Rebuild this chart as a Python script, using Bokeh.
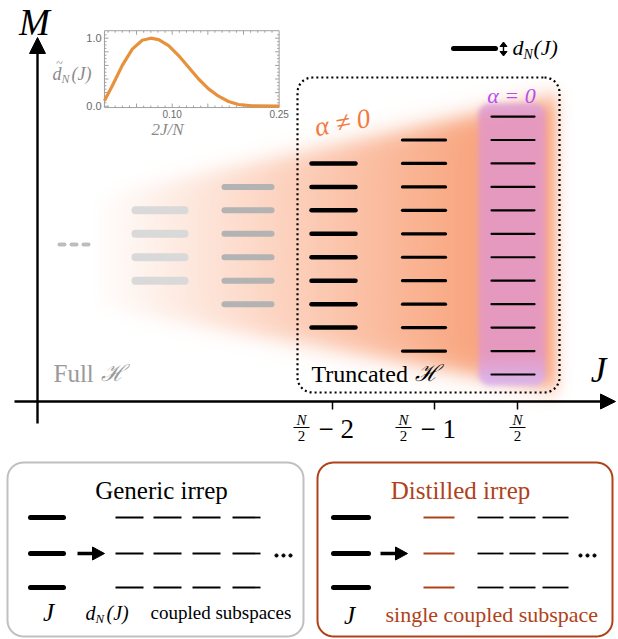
import numpy as np
from bokeh.plotting import figure
from bokeh.models import Range1d
from bokeh.core.properties import value
from bokeh.embed import file_html
from bokeh.resources import INLINE

# ---------------- data ----------------
j_tick_suffix = ["\u2212 2", "\u2212 1", ""]          # J-axis ticks: N/2 - k
levels_per_column = [4, 6, 8, 10, 12]                 # M levels in each J column
column_colors = ["#d9d9d9", "#b3b3b3", "black", "black", "black"]
column_widths = [8, 6, 4.5, 3.2, 2.2]
inset_x = [0.005, 0.016, 0.030, 0.044, 0.058, 0.070, 0.081, 0.095, 0.109,
           0.123, 0.137, 0.151, 0.165, 0.179, 0.193, 0.212, 0.250]
inset_y = [0.08, 0.30, 0.60, 0.84, 0.97, 1.00, 0.98, 0.89, 0.745,
           0.574, 0.40, 0.255, 0.147, 0.069, 0.025, 0.006, 0.0]
inset_xticks = [0.10, 0.25]
inset_xtick_labels = ["0.10", "0.25"]
inset_yticks = [0.0, 1.0]
inset_ytick_labels = ["0.0", "1.0"]
generic_subspaces = 4      # dashes per row, generic irrep
distilled_rest = 3         # black dashes per row after the single coupled one
rows_bottom = 3

# ---------------- layout ----------------
W, H = 618, 639
SERIF = "Liberation Serif"
SANS = "Liberation Sans"
ORANGE_TXT = "#f27a3f"
PURPLE_TXT = "#b54cf2"
BROWN = "#b0421a"

p = figure(width=W, height=H, x_range=Range1d(0, W), y_range=Range1d(H, 0),
           output_backend="svg", toolbar_location=None, min_border=0,
           x_axis_location=None, y_axis_location=None)
p.grid.visible = False
p.outline_line_color = None
p.background_fill_color = "white"
p.border_fill_color = "white"

# inset scales: 2J/N -> px, d -> px
x_per = 713.0
x_ref_px, x_ref_v = 171.7, 0.10
ix_start = x_ref_v - x_ref_px / x_per
y_per = 68.0
y0_px = 105.7
iy_start = (y0_px - H) / y_per
p.extra_x_ranges = {"ix": Range1d(ix_start, ix_start + W / x_per)}
p.extra_y_ranges = {"iy": Range1d(iy_start, iy_start + H / y_per)}


def txt(x, y, s, size, color="black", italic=False, align="center",
        baseline="middle", font=SERIF, angle=0.0, **kw):
    p.text(x=[x], y=[y], text=[s], text_font=value(font),
           text_font_size=f"{size}px", text_color=color,
           text_font_style="italic" if italic else "normal",
           text_align=align, text_baseline=baseline, angle=angle, **kw)


def rrect(x0, y0, x1, y1, r, n=12):
    xs, ys = [], []
    corners = [(x1 - r, y0 + r, -np.pi / 2, 0), (x1 - r, y1 - r, 0, np.pi / 2),
               (x0 + r, y1 - r, np.pi / 2, np.pi), (x0 + r, y0 + r, np.pi, 1.5 * np.pi)]
    for cx, cy, a0, a1 in corners:
        for a in np.linspace(a0, a1, n):
            xs.append(cx + r * np.cos(a))
            ys.append(cy + r * np.sin(a))
    xs.append(xs[0]); ys.append(ys[0])
    return xs, ys


# ---------------- soft gradient (orange wedge + pink alpha=0 band) ----------------
IX0, IY0, IW, IH = 60, 80, 520, 330
gx = IX0 + np.arange(IW) + 0.5
gy = IY0 + np.arange(IH) + 0.5
X, Y = np.meshgrid(gx, gy)


def sig(z):
    return 1.0 / (1.0 + np.exp(-z))


top = 198 + (X - 90) * (95 - 198) / (560 - 90)
bot = 305 + (X - 90) * (390 - 305) / (560 - 90)
shape = sig((Y - top) / 6.0) * sig((bot - Y) / 6.0) * sig((556 - X) / 4.0)
ramp = np.clip((X - 88) / (470 - 88), 0, 1)
aO = 0.85 * ramp * shape
O = np.array([248, 150, 105], dtype=float)

px0, px1, py0, py1, pr = 478, 545, 103, 385, 12
cx, cy = (px0 + px1) / 2, (py0 + py1) / 2
hx, hy = (px1 - px0) / 2, (py1 - py0) / 2
qx = np.abs(X - cx) - (hx - pr)
qy = np.abs(Y - cy) - (hy - pr)
d = np.sqrt(np.maximum(qx, 0) ** 2 + np.maximum(qy, 0) ** 2) + np.minimum(np.maximum(qx, qy), 0) - pr
aP = 0.95 * sig(-d / 1.6)
pink = np.array([229, 153, 194], dtype=float)
lav = np.array([216, 180, 242], dtype=float)
t = np.maximum(np.clip((Y - 352) / 33, 0, 1), 0.5 * np.clip((118 - Y) / 15, 0, 1))
P = pink[None, None, :] * (1 - t[..., None]) + lav[None, None, :] * t[..., None]

A = aP + aO * (1 - aP)
C = (P * aP[..., None] + O[None, None, :] * (aO * (1 - aP))[..., None]) / np.maximum(A, 1e-6)[..., None]
img = np.zeros((IH, IW), dtype=np.uint32)
view = img.view(dtype=np.uint8).reshape((IH, IW, 4))
view[..., 0] = np.clip(C[..., 0], 0, 255).astype(np.uint8)
view[..., 1] = np.clip(C[..., 1], 0, 255).astype(np.uint8)
view[..., 2] = np.clip(C[..., 2], 0, 255).astype(np.uint8)
view[..., 3] = np.clip(A * 255, 0, 255).astype(np.uint8)
p.image_rgba(image=[img], x=IX0, y=IY0, dw=IW, dh=IH)

# ---------------- main axes ----------------
p.segment(x0=[37], y0=[423], x1=[37], y1=[50], line_width=2.4, color="black")
p.patch([29, 37, 45], [53, 37, 53], color="black")
p.segment(x0=[14], y0=[401], x1=[602], y1=[401], line_width=2.4, color="black")
p.patch([600, 615, 600], [393.5, 401, 408.5], color="black")
txt(34, 22, "M", 37, italic=True)
txt(598, 370, "J", 35, italic=True)

# J ticks
tick_x = [332, 434, 517]
p.segment(x0=tick_x, y0=[401] * 3, x1=tick_x, y1=[409] * 3, line_width=1.5, color="black")
for tx, suf in zip(tick_x, j_tick_suffix):
    fc = tx - 31 if suf else tx
    txt(fc, 419, "N", 15, italic=True)
    p.segment(x0=[fc - 8], y0=[427], x1=[fc + 8], y1=[427], line_width=1, color="black")
    txt(fc, 435, "2", 15)
    if suf:
        txt(tx - 14, 428, suf, 27, align="left")

# ---------------- level columns ----------------
col_left = [135, 224, 311, 402, 491]
col_right = [184, 271, 355, 445, 534]
level_center, level_gap = 245, 23.45
for n, xl, xr, c, lw in zip(levels_per_column, col_left, col_right, column_colors, column_widths):
    ys = [level_center + (k - (n - 1) / 2) * level_gap for k in range(n)]
    p.segment(x0=[xl] * n, y0=ys, x1=[xr] * n, y1=ys, line_width=lw, color=c, line_cap="round")
# "..." continuation at the far left
p.segment(x0=[59, 71, 83], y0=[244] * 3, x1=[64, 76, 88], y1=[244] * 3,
          line_width=4, color="#bdbdbd", line_cap="round")

# truncated box
bx, by = rrect(297, 77, 559, 392, 15)
p.line(bx, by, line_width=2.2, color="black", line_dash="2 3")

txt(53, 373, "Full", 25, color="#9a9a9a", align="left")
txt(100, 373, "\u210b", 23, color="#9a9a9a", align="left", italic=True)
txt(311, 373, "Truncated", 24, align="left")
txt(414, 373, "\u210b", 23, align="left", italic=True)
txt(342, 122, "\u03b1 \u2260 0", 27, color=ORANGE_TXT, angle=0.18, italic=True)
txt(511, 95, "\u03b1 = 0", 22, color=PURPLE_TXT, italic=True)

# legend top right
p.segment(x0=[453], y0=[48], x1=[495], y1=[48], line_width=5, color="black", line_cap="round")
p.segment(x0=[503], y0=[45], x1=[503], y1=[52], line_width=1.4, color="black")
p.patch([499.5, 503, 506.5], [46, 41.5, 46], color="black")
p.patch([499.5, 503, 506.5], [51, 55.5, 51], color="black")
txt(512, 47, "d", 22, italic=True, align="left")
txt(523, 54, "N", 14, italic=True, align="left")
txt(533, 47, "(J)", 22, italic=True, align="left")

# ---------------- inset ----------------
ix0, ix1, iy0, iy1 = 0.005, 0.25, -0.02, 1.11
p.quad(left=[ix0], right=[ix1], bottom=[iy0], top=[iy1], fill_color="white",
       line_color="#a0a0a0", line_width=1, x_range_name="ix", y_range_name="iy")
tx_major = [0.05, 0.10, 0.15, 0.20]
tx_minor = [0.01 * k for k in range(1, 25) if k % 5]
tl_x, tl_y = 4 / y_per, 2 / y_per
for ticks, ln in ((tx_major, tl_x), (tx_minor, tl_y)):
    p.segment(x0=ticks, y0=[iy0] * len(ticks), x1=ticks, y1=[iy0 + ln] * len(ticks),
              color="#a0a0a0", line_width=1, x_range_name="ix", y_range_name="iy")
    p.segment(x0=ticks, y0=[iy1] * len(ticks), x1=ticks, y1=[iy1 - ln] * len(ticks),
              color="#a0a0a0", line_width=1, x_range_name="ix", y_range_name="iy")
ty_major = [0.0, 0.2, 0.4, 0.6, 0.8, 1.0]
ty_minor = [0.05 * k for k in range(1, 22) if k % 4]
for ticks, ln in ((ty_major, 4 / x_per), (ty_minor, 2 / x_per)):
    p.segment(x0=[ix0] * len(ticks), y0=ticks, x1=[ix0 + ln] * len(ticks), y1=ticks,
              color="#a0a0a0", line_width=1, x_range_name="ix", y_range_name="iy")
    p.segment(x0=[ix1] * len(ticks), y0=ticks, x1=[ix1 - ln] * len(ticks), y1=ticks,
              color="#a0a0a0", line_width=1, x_range_name="ix", y_range_name="iy")
p.line(inset_x, inset_y, line_width=3.2, color="#e8913c", x_range_name="ix", y_range_name="iy")
p.text(x=inset_xticks, y=[-0.12] * 2, text=inset_xtick_labels, text_font=value(SANS),
       text_font_size="10px", text_color="#6a6a6a", text_align="center", text_baseline="middle",
       x_range_name="ix", y_range_name="iy")
p.text(x=[ix0 - 0.004] * 2, y=inset_yticks, text=inset_ytick_labels, text_font=value(SANS),
       text_font_size="11px", text_color="#6a6a6a", text_align="right", text_baseline="middle",
       x_range_name="ix", y_range_name="iy")
txt(52, 73, "d", 18, color="#8a8a8a", italic=True, align="left")
txt(59, 62, "~", 12, color="#8a8a8a", align="center")
txt(61, 78, "N", 12, color="#8a8a8a", italic=True, align="left")
txt(71, 73, "(J)", 18, color="#8a8a8a", italic=True, align="left")
txt(167, 129, "2J/N", 17, color="#8a8a8a", italic=True)

# ---------------- bottom boxes ----------------
lx, ly = rrect(7, 462, 303, 636, 16)
p.line(lx, ly, line_width=2, color="#c0c0c0")
rx, ry = rrect(317, 462, 612, 636, 16)
p.line(rx, ry, line_width=2, color=BROWN)
txt(161, 490, "Generic irrep", 25)
txt(460, 490, "Distilled irrep", 25, color=BROWN)

row_y = [517, 553, 587]
for x0, x1 in ((30, 63), (333, 368)):
    p.segment(x0=[x0] * rows_bottom, y0=row_y, x1=[x1] * rows_bottom, y1=row_y,
              line_width=5, color="black", line_cap="round")
for ax in (77, 380):
    p.segment(x0=[ax], y0=[553], x1=[ax + 17], y1=[553], line_width=3.5, color="black")
    p.patch([ax + 15, ax + 27, ax + 15], [546.5, 553, 559.5], color="black")

gen_left = [115, 153, 192, 232]
gen_len = 28
for k in range(generic_subspaces):
    xs0 = [gen_left[k]] * rows_bottom
    p.segment(x0=xs0, y0=row_y, x1=[gen_left[k] + gen_len] * rows_bottom, y1=row_y,
              line_width=1.8, color="black")
p.segment(x0=[423] * rows_bottom, y0=row_y, x1=[454] * rows_bottom, y1=row_y,
          line_width=2, color=BROWN)
dis_left = [477, 509, 542]
for k in range(distilled_rest):
    p.segment(x0=[dis_left[k]] * rows_bottom, y0=row_y, x1=[dis_left[k] + 26] * rows_bottom,
              y1=row_y, line_width=1.8, color="black")
for dx0 in (276, 580):
    p.scatter(x=[dx0, dx0 + 7, dx0 + 14], y=[555] * 3, size=3.2, color="black")

txt(48, 612, "J", 25, italic=True)
txt(349, 615, "J", 25, italic=True)
txt(85, 612, "d", 20, italic=True, align="left")
txt(95, 618, "N", 13, italic=True, align="left")
txt(106, 612, "(J)", 20, italic=True, align="left")
txt(150, 612, "coupled subspaces", 19, align="left")
txt(385, 614, "single coupled subspace", 22, color=BROWN, align="left")

open("out.html", "w").write(file_html(p, INLINE))
